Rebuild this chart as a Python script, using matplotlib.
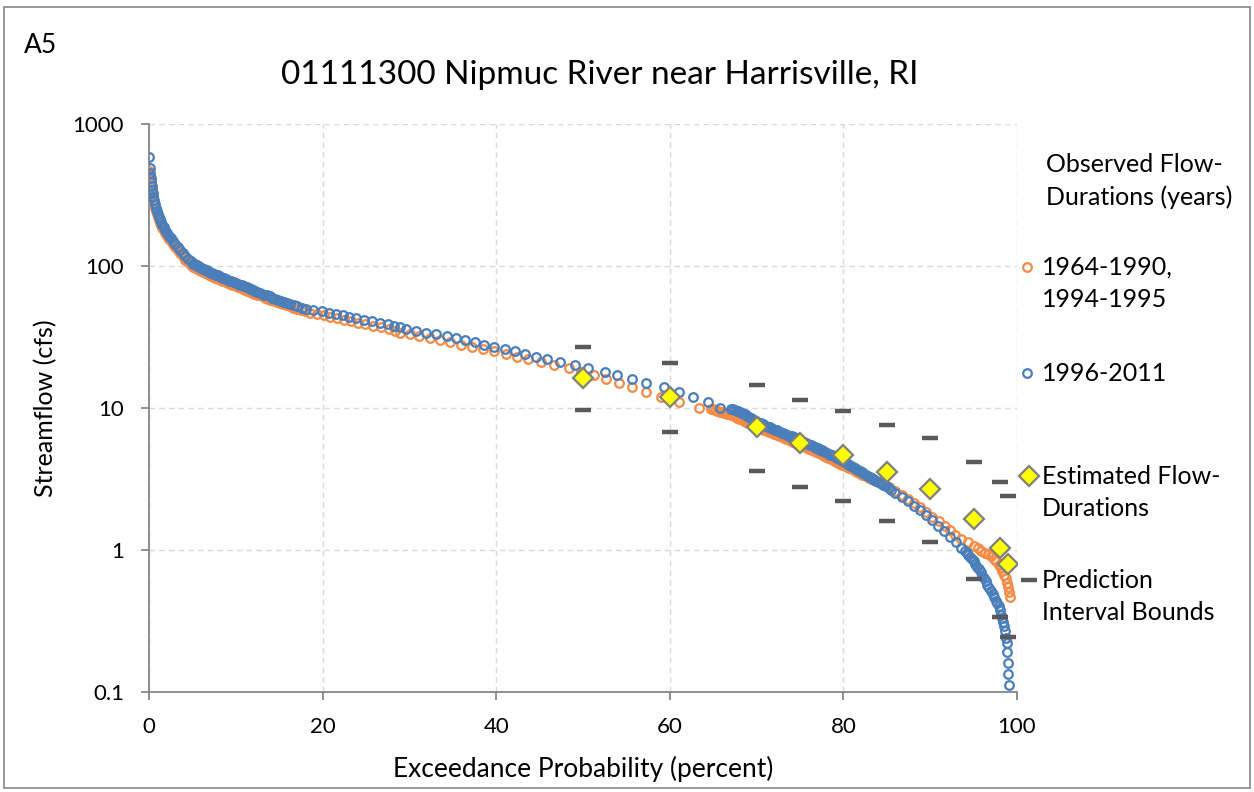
import matplotlib
matplotlib.use("Agg")
import matplotlib.pyplot as plt
from matplotlib.lines import Line2D
from matplotlib.patches import Rectangle

plt.rcParams['font.family'] = ['Lato', 'DejaVu Sans']

# observed flow-durations, 1964-1990, 1994-1995 (percent exceeded, cfs), flows of 10 cfs and up
orange_pct = [0.05, 0.12, 0.16, 0.2, 0.25, 0.3, 0.36, 0.43, 0.5, 0.6, 0.7, 0.8, 0.9, 1.0,
              1.12, 1.25, 1.4, 1.55, 1.72, 1.9, 2.1, 2.3, 2.5, 2.75, 3.0, 3.3, 3.6, 3.9, 4.2,
              4.5, 4.8, 5.1, 5.25, 5.4, 5.5, 5.6, 5.75, 5.9, 6.05, 6.2, 6.45, 6.65, 6.8, 6.95,
              7.1, 7.2, 7.4, 7.6, 7.85, 8.0, 8.25, 8.45, 8.65, 8.85, 9.1, 9.3, 9.55, 9.8,
              10.05, 10.3, 10.55, 10.85, 11.1, 11.35, 11.65, 11.9, 12.15, 12.45, 12.75,
              13.05, 13.35, 13.7, 14.0, 14.35, 14.7, 15.05, 15.45, 15.8, 16.2, 16.6, 17.0,
              17.5, 18.0, 18.5, 19.4, 20.2, 20.9,
              21.7, 22.5, 23.3, 24.1, 24.9, 25.8, 26.7, 27.6, 28.3, 28.9, 30.1, 31.1, 32.4,
              33.5, 34.7, 36.0, 37.2, 38.5, 39.7, 41.1, 42.4, 43.7, 45.2, 46.7, 48.4, 49.8,
              51.3, 52.7, 54.2, 55.6, 57.3, 59.0, 61.1, 63.4]
orange_cfs = [470, 440, 420, 395, 370, 347, 328, 309, 293, 276, 258, 245, 233, 222,
              212, 202, 193, 185, 178, 170, 162, 156, 149, 142, 136, 129, 123, 117, 111,
              106, 102, 99, 98, 97, 96, 95, 94, 93, 92, 91, 90, 89, 88, 87,
              86, 85, 84, 83, 82, 81, 80, 79, 78, 77, 76, 75, 74, 73,
              72, 71, 70, 69, 68, 67, 66, 65, 64, 63, 62,
              61, 60, 59, 58, 57, 56, 55, 54, 53, 52, 51, 50,
              49, 48, 47, 46, 45, 44,
              43, 42, 41, 40, 39, 38, 37, 36, 35, 34, 33, 32, 31,
              30, 29, 28, 27, 26, 25, 24, 23, 22, 21, 20, 19, 18,
              17, 16, 15, 14, 13, 12, 11, 10]

# same record, flows below 10 cfs as (percent, cfs)
orange_low = [(64.8, 9.9), (65.0, 9.8), (65.2, 9.7), (65.4, 9.6), (65.6, 9.5), (65.8, 9.42),
              (66.0, 9.35), (66.2, 9.27), (66.4, 9.2), (66.6, 9.12), (66.8, 9.05), (67.0, 8.97),
              (67.2, 8.9), (67.4, 8.77), (67.6, 8.65), (67.8, 8.52), (68.0, 8.4), (68.2, 8.3),
              (68.4, 8.2), (68.6, 8.1), (68.8, 8.0), (69.0, 7.9), (69.2, 7.8), (69.4, 7.7),
              (69.6, 7.6), (69.8, 7.5), (70.0, 7.4), (70.2, 7.3), (70.4, 7.2), (70.6, 7.12),
              (70.8, 7.05), (71.0, 6.97), (71.2, 6.9), (71.4, 6.82), (71.6, 6.75), (71.8, 6.67),
              (72.0, 6.6), (72.2, 6.52), (72.4, 6.45), (72.6, 6.37), (72.8, 6.3), (73.0, 6.22),
              (73.2, 6.15), (73.4, 6.07), (73.6, 6.0), (73.8, 5.92), (74.0, 5.85), (74.2, 5.77),
              (74.4, 5.7), (74.6, 5.62), (74.8, 5.55), (75.0, 5.5), (75.2, 5.45), (75.4, 5.37),
              (75.6, 5.3), (75.8, 5.24), (76.0, 5.18), (76.2, 5.11), (76.4, 5.05), (76.6, 4.98),
              (76.8, 4.92), (77.0, 4.86), (77.2, 4.8), (77.4, 4.73), (77.6, 4.67), (77.8, 4.61),
              (78.0, 4.55), (78.2, 4.48), (78.4, 4.42), (78.6, 4.36), (78.8, 4.3), (79.0, 4.24),
              (79.2, 4.18), (79.4, 4.12), (79.6, 4.06), (79.8, 4.0), (80.0, 3.95), (80.2, 3.9),
              (80.4, 3.85), (80.6, 3.8), (80.8, 3.75), (81.0, 3.7), (81.2, 3.65), (81.4, 3.6),
              (81.6, 3.55), (81.8, 3.5), (82.0, 3.45), (82.2, 3.4), (82.4, 3.36), (82.6, 3.31),
              (82.8, 3.27), (83.0, 3.22), (83.2, 3.18), (83.4, 3.14), (83.6, 3.1), (83.8, 3.06),
              (84.0, 3.02), (84.2, 2.98), (84.4, 2.94), (84.6, 2.9), (84.8, 2.86), (85.05, 2.81),
              (85.3, 2.76), (86.0, 2.6), (86.7, 2.45), (87.4, 2.3), (88.1, 2.15), (88.8, 2.0),
              (89.5, 1.86), (90.2, 1.72), (91.0, 1.6), (91.7, 1.48), (92.3, 1.38), (92.9, 1.28),
              (93.6, 1.2), (94.3, 1.13), (95.0, 1.07), (95.5, 1.03), (95.9, 0.99), (96.3, 0.96),
              (96.7, 0.93), (97.0, 0.9), (97.3, 0.87), (97.6, 0.83), (97.9, 0.79), (98.1, 0.75),
              (98.3, 0.71), (98.5, 0.67), (98.7, 0.63), (98.85, 0.59), (99.0, 0.55),
              (99.1, 0.51), (99.2, 0.47)]

# observed flow-durations, 1996-2011, flows of 10 cfs and up
blue_pct = [0.05, 0.12, 0.16, 0.2, 0.25, 0.3, 0.36, 0.43, 0.5, 0.6, 0.7, 0.8, 0.9, 1.0,
            1.12, 1.25, 1.4, 1.55, 1.72, 1.9, 2.1, 2.3, 2.5, 2.75, 3.0, 3.3, 3.6, 3.9, 4.2,
            4.5, 4.8, 5.1, 5.25, 5.4, 5.5, 5.6, 5.75, 5.9, 6.05, 6.2, 6.35, 6.5, 6.65, 6.8,
            6.95, 7.1, 7.3, 7.5, 7.7, 7.9, 8.1, 8.3, 8.5, 8.7, 8.9, 9.1, 9.3, 9.5, 9.75,
            10.0, 10.25, 10.5, 10.75, 11.0, 11.25, 11.5, 11.75, 12.0, 12.25, 12.5, 12.75,
            13.0, 13.3, 13.6, 13.9, 14.2, 14.5, 14.85, 15.2, 15.55, 15.9, 16.3, 16.7, 17.1,
            17.6, 18.1, 18.9,
            19.9, 20.7, 21.5, 22.3, 23.1, 23.9, 24.8, 25.7, 26.6, 27.5, 28.2, 28.9, 29.6,
            30.8, 31.9, 33.1, 34.3, 35.4, 36.4, 37.6, 38.6, 39.8, 41.0, 42.2, 43.3, 44.6,
            45.8, 47.4, 49.1, 50.6, 52.5, 53.9, 55.7, 57.3, 59.3, 61.1, 62.7, 64.4, 65.8]
blue_cfs = [590, 490, 450, 420, 390, 365, 345, 325, 308, 290, 272, 258, 245, 234,
            223, 213, 203, 195, 187, 179, 171, 164, 157, 150, 143, 136, 129, 123, 117,
            112, 108, 104, 103, 102, 101, 100, 99, 98, 97, 96, 95, 94, 93, 92,
            91, 90, 89, 88, 87, 86, 85, 84, 83, 82, 81, 80, 79, 78, 77,
            76, 75, 74, 73, 72, 71, 70, 69, 68, 67, 66, 65,
            64, 63, 62, 61, 60, 59, 58, 57, 56, 55, 54, 53, 52,
            51, 50, 49,
            48, 47, 46, 45, 44, 43, 42, 41, 40, 39, 38, 37, 36,
            35, 34, 33, 32, 31, 30, 29, 28, 27, 26, 25, 24, 23,
            22, 21, 20, 19, 18, 17, 16, 15, 14, 13, 12, 11, 10]

# same record, flows below 10 cfs as (percent, cfs)
blue_low = [(67.1, 9.9), (67.3, 9.8), (67.5, 9.7), (67.7, 9.6), (67.9, 9.5), (68.1, 9.35),
            (68.3, 9.2), (68.5, 9.1), (68.7, 9.0), (68.9, 8.85), (69.1, 8.7), (69.3, 8.55),
            (69.5, 8.4), (69.7, 8.25), (69.9, 8.1), (70.1, 8.0), (70.3, 7.9), (70.5, 7.8),
            (70.7, 7.7), (70.9, 7.6), (71.1, 7.5), (71.3, 7.4), (71.5, 7.3), (71.7, 7.2),
            (71.9, 7.1), (72.1, 7.0), (72.3, 6.95), (72.5, 6.9), (72.7, 6.8), (72.9, 6.7),
            (73.1, 6.65), (73.3, 6.6), (73.5, 6.5), (73.7, 6.4), (73.9, 6.35), (74.1, 6.3),
            (74.3, 6.2), (74.5, 6.1), (74.7, 6.05), (74.9, 6.0), (75.1, 5.9), (75.3, 5.8),
            (75.5, 5.75), (75.7, 5.7), (75.9, 5.6), (76.1, 5.5), (76.3, 5.45), (76.5, 5.4),
            (76.7, 5.3), (76.9, 5.25), (77.1, 5.2), (77.3, 5.1), (77.5, 5.05), (77.7, 5.0),
            (77.9, 4.92), (78.1, 4.85), (78.3, 4.78), (78.5, 4.7), (78.7, 4.64), (78.9, 4.57),
            (79.1, 4.5), (79.3, 4.45), (79.5, 4.37), (79.7, 4.3), (79.9, 4.25), (80.1, 4.2),
            (80.3, 4.12), (80.5, 4.05), (80.7, 3.98), (80.9, 3.92), (81.1, 3.85), (81.3, 3.8),
            (81.5, 3.72), (81.7, 3.65), (81.9, 3.6), (82.1, 3.55), (82.3, 3.47), (82.55, 3.4),
            (82.8, 3.32), (83.05, 3.25), (83.3, 3.19), (83.55, 3.13), (83.8, 3.07), (84.05, 3.0),
            (84.3, 2.95), (84.6, 2.88), (84.9, 2.82), (85.2, 2.74), (85.5, 2.66), (86.0, 2.52),
            (86.7, 2.36), (87.4, 2.2), (88.1, 2.05), (88.8, 1.9), (89.5, 1.76), (90.2, 1.62),
            (90.9, 1.48), (91.6, 1.36), (92.3, 1.24), (93.0, 1.13), (93.6, 1.03), (94.0, 0.98),
            (94.2, 0.95), (94.4, 0.92), (94.6, 0.89), (94.8, 0.86), (95.0, 0.83), (95.2, 0.8),
            (95.4, 0.765), (95.6, 0.73), (95.8, 0.7), (96.0, 0.66), (96.2, 0.63), (96.4, 0.6),
            (96.6, 0.57), (96.8, 0.54), (97.0, 0.515), (97.2, 0.49), (97.4, 0.465), (97.6, 0.44),
            (97.75, 0.42), (97.9, 0.4), (98.05, 0.375), (98.2, 0.35), (98.3, 0.33), (98.4, 0.31),
            (98.5, 0.29), (98.6, 0.27), (98.7, 0.24), (98.8, 0.22), (98.9, 0.19), (98.95, 0.16),
            (99.0, 0.134), (99.1, 0.112)]

# estimated flow-durations and prediction interval bounds
est_pct = [50, 60, 70, 75, 80, 85, 90, 95, 98, 99]
est_cfs = [16.3, 12.0, 7.3, 5.67, 4.67, 3.52, 2.69, 1.64, 1.04, 0.80]
upper_cfs = [27.0, 20.8, 14.5, 11.4, 9.52, 7.59, 6.15, 4.19, 3.01, 2.40]
lower_cfs = [9.68, 6.81, 3.62, 2.78, 2.21, 1.60, 1.14, 0.625, 0.337, 0.244]

orange_x = orange_pct + [p for p, q in orange_low]
orange_y = orange_cfs + [q for p, q in orange_low]
blue_x = blue_pct + [p for p, q in blue_low]
blue_y = blue_cfs + [q for p, q in blue_low]

orange = '#F58B45'
blue = '#4A7EBB'
circ = dict(marker='o', ms=6.2, mfc='none', mew=1.6, linestyle='none')
diam = dict(marker='D', ms=10.5, mfc='#FFFF00', mec='#7F7F7F', mew=1.6, linestyle='none')
dash = dict(marker='_', ms=12, mec='#595959', mew=3.2, linestyle='none')

fig = plt.figure(figsize=(12.54, 7.92), dpi=100)
ax = fig.add_axes([0.1188, 0.1263, 0.6922, 0.7171])

ax.plot(orange_x, orange_y, mec=orange, zorder=3, **circ)
ax.plot(blue_x, blue_y, mec=blue, zorder=4, **circ)
ax.plot(est_pct, est_cfs, zorder=5, **diam)
ax.plot(est_pct, upper_cfs, zorder=5, **dash)
ax.plot(est_pct, lower_cfs, zorder=5, **dash)

ax.set_yscale('log')
ax.set_ylim(0.1, 1000)
ax.set_xlim(0, 100)
ax.set_xticks([0, 20, 40, 60, 80, 100])
ax.set_yticks([0.1, 1, 10, 100, 1000])
ax.set_yticklabels(['0.1', '1', '10', '100', '1000'])
ax.minorticks_off()
ax.grid(True, color='#D9D9D9', linestyle=(0, (4, 3)), linewidth=1.0)
ax.set_axisbelow(True)
for s in ['top', 'right']:
    ax.spines[s].set_visible(False)
for s in ['left', 'bottom']:
    ax.spines[s].set_color('#868686')
    ax.spines[s].set_linewidth(1.3)
ax.tick_params(colors='#868686', labelcolor='black', labelsize=16, length=6, width=1.3, pad=12)
ax.set_xlabel('Exceedance Probability (percent)', fontsize=19)
ax.set_ylabel('Streamflow (cfs)', fontsize=18)
ax.xaxis.set_label_coords(0.5, -0.112)
ax.yaxis.set_label_coords(-0.106, 0.5)

fig.text(0.478, 0.905, '01111300 Nipmuc River near Harrisville, RI', fontsize=24,
         ha='center', va='center')
fig.text(0.019, 0.943, 'A5', fontsize=19, ha='left', va='center')

# legend drawn by hand on the right
H = 792.0
def fy(y):
    return 1 - y / H

tx = 1042 / 1254.0
lg = dict(fontsize=18, va='center')
fig.text(1046 / 1254.0, fy(165), 'Observed Flow-', **lg)
fig.text(1046 / 1254.0, fy(197), 'Durations (years)', **lg)
fig.text(tx, fy(267), '1964-1990,', **lg)
fig.text(tx, fy(299), '1994-1995', **lg)
fig.text(tx, fy(373), '1996-2011', **lg)
fig.text(tx, fy(476), 'Estimated Flow-', **lg)
fig.text(tx, fy(508), 'Durations', **lg)
fig.text(tx, fy(580), 'Prediction', **lg)
fig.text(tx, fy(612), 'Interval Bounds', **lg)

mx = 1027 / 1254.0
fig.add_artist(Line2D([mx], [fy(267)], mec=orange, transform=fig.transFigure, **circ))
fig.add_artist(Line2D([mx], [fy(373)], mec=blue, transform=fig.transFigure, **circ))
fig.add_artist(Line2D([1029 / 1254.0], [fy(476)], transform=fig.transFigure, **diam))
fig.add_artist(Line2D([1029 / 1254.0], [fy(580)], transform=fig.transFigure, **dash))

fig.add_artist(Rectangle((4 / 1254.0, 4 / H), 1246 / 1254.0, 781 / H, fill=False,
                         edgecolor='#868686', linewidth=1.2, transform=fig.transFigure))

fig.savefig('out.png', dpi=100)
